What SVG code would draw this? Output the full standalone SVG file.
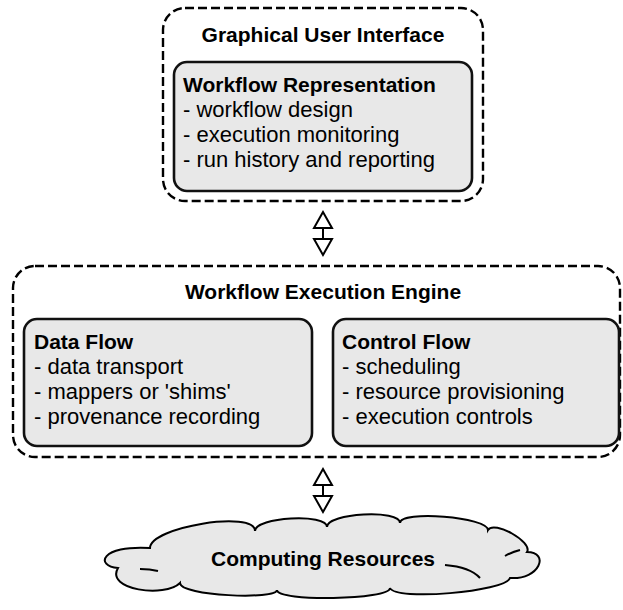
<svg xmlns="http://www.w3.org/2000/svg" width="623" height="610" viewBox="0 0 623 610">
<style>
  .dash { fill: none; stroke: #000; stroke-width: 2.4; stroke-dasharray: 9 4; }
  .box { fill: #e8e8e8; stroke: #111; stroke-width: 2.6; }
  .t { font-family: "Liberation Sans", Arial, sans-serif; font-size: 22px; fill: #000; }
  .b { font-weight: bold; font-size: 21px; }
  .c { text-anchor: middle; }
  .arr { fill: #fff; stroke: #000; stroke-width: 2; stroke-linejoin: miter; }
  .ln { stroke: #000; stroke-width: 2; }
  .cloud { fill: #e8e8e8; stroke: #000; stroke-width: 2; }
  .tail { fill: none; stroke: #000; stroke-width: 2; }
</style>
<rect width="623" height="610" fill="#fff"/>

<g id="gui">
  <rect class="dash" x="163" y="8" width="320" height="193" rx="22"/>
  <text class="t b c" x="323" y="42">Graphical User Interface</text>
</g>
<g id="workflow-representation">
  <rect class="box" x="174" y="62" width="298" height="129" rx="13"/>
  <text class="t b" x="183" y="92">Workflow Representation</text>
  <text class="t" x="183" y="117">- workflow design</text>
  <text class="t" x="183" y="142">- execution monitoring</text>
  <text class="t" x="183" y="167">- run history and reporting</text>
</g>

<g id="engine">
  <rect class="dash" x="13" y="266" width="607" height="191" rx="22"/>
  <text class="t b c" x="323" y="299">Workflow Execution Engine</text>
</g>
<g id="data-flow">
  <rect class="box" x="24" y="319" width="288" height="127" rx="13"/>
  <text class="t b" x="34" y="349">Data Flow</text>
  <text class="t" x="34" y="374">- data transport</text>
  <text class="t" x="34" y="399">- mappers or 'shims'</text>
  <text class="t" x="34" y="424">- provenance recording</text>
</g>
<g id="control-flow">
  <rect class="box" x="333" y="319" width="286" height="127" rx="13"/>
  <text class="t b" x="342" y="349">Control Flow</text>
  <text class="t" x="342" y="374">- scheduling</text>
  <text class="t" x="342" y="399">- resource provisioning</text>
  <text class="t" x="342" y="424">- execution controls</text>
</g>

<g id="computing-resources">
  <path class="cloud" d="M150,548 C150,527 255,510 255,531 C255,517 327,513 327,527 C327,513 400,509 400,523 C400,510 488,517 488,530 C494,520 533,542 527,552 C550,552 540,580 510,578 C505,592 395,601 390,588 C390,600 277,602 277,590 C277,600 180,596 180,583 C165,598 105,590 118,568 C95,566 100,545 150,548 Z"/>
  <path class="tail" d="M445,565 Q470,567 480,578 M140,569 Q150,569 158,571 M505,556 Q512,552 520,550"/>
  <text class="t b c" x="323" y="566">Computing Resources</text>
</g>

<g id="connectors">
  <polygon class="arr" points="323,212 314,228 332,228"/>
  <line class="ln" x1="323" y1="228" x2="323" y2="239"/>
  <polygon class="arr" points="323,255 314,239 332,239"/>
  <polygon class="arr" points="323,469 314,485 332,485"/>
  <line class="ln" x1="323" y1="485" x2="323" y2="496"/>
  <polygon class="arr" points="323,512 314,496 332,496"/>
</g>
</svg>
